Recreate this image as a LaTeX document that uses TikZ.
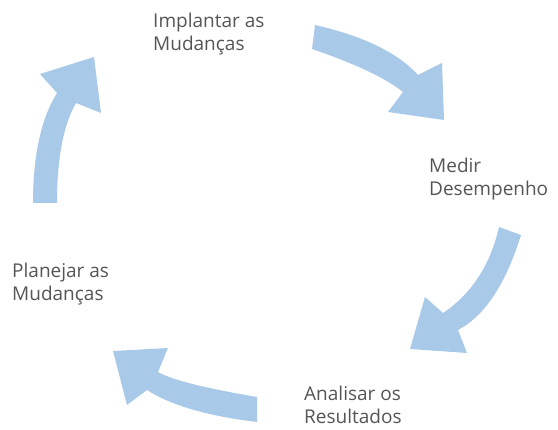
\documentclass[tikz,border=0pt]{standalone}
\usepackage{fontspec}
\setmainfont{Open Sans}
\definecolor{arrowblue}{HTML}{A9C9E8}
\definecolor{labelgray}{HTML}{555555}
\tikzset{
  blockarrow/.style={fill=arrowblue, draw=none},
  stagelabel/.style={anchor=base west, align=left, inner sep=0pt, text=labelgray,
    font=\fontsize{19}{22.5}\selectfont}
}
\begin{document}
\begin{tikzpicture}[x=1pt,y=-1pt]
\useasboundingbox (0,0) rectangle (558,430);
% labels (anchor at baseline of last line)
\node[stagelabel] (implantar) at (153,50.5) {Implantar as\\Mudanças};
\node[stagelabel] (medir) at (429,195.5) {Medir\\Desempenho};
\node[stagelabel] (analisar) at (304,423.5) {Analisar os\\Resultados};
\node[stagelabel] (planejar) at (12,300.5) {Planejar as\\Mudanças};
% arrow: Implantar -> Medir
\path[blockarrow] (315,25) .. controls (363.7,36.1) and (397.9,52.8) .. (418,75)
  -- (442,63) -- (444,120) -- (388,112) -- (403,92)
  .. controls (385.5,78) and (355.1,63.7) .. (312,49) -- cycle;
% arrow: Medir -> Analisar
\path[blockarrow] (499,227) .. controls (490.2,265.2) and (471.5,293.9) .. (443,313)
  -- (425,297) -- (410,349) -- (467,353) -- (458,330)
  .. controls (484.7,316) and (505.7,284.3) .. (521,235) -- cycle;
% arrow: Analisar -> Planejar
\path[blockarrow] (257,397) .. controls (204.2,388) and (171.2,379.7) .. (158,372)
  -- (168,348) -- (113,351) -- (127,405) -- (147,390)
  .. controls (170.7,405.3) and (207.3,416) .. (257,422) -- cycle;
% arrow: Planejar -> Implantar
\path[blockarrow] (33,203) .. controls (33,155.5) and (41,118.8) .. (57,93)
  -- (40,74) -- (94,57) -- (101,113) -- (76,103)
  .. controls (63.3,125.2) and (57,158.5) .. (57,203) -- cycle;
\end{tikzpicture}
\end{document}
